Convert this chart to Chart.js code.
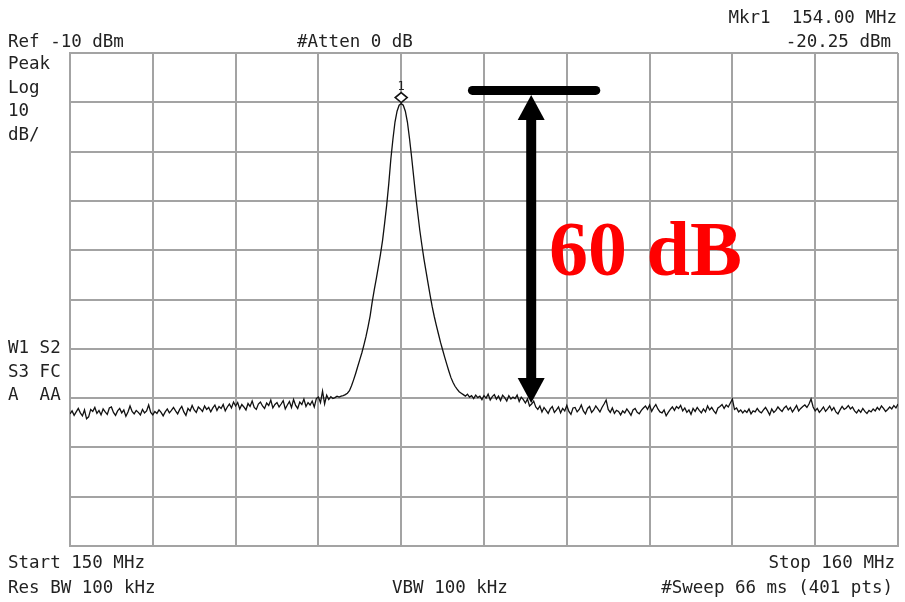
<!DOCTYPE html>
<html>
<head>
<meta charset="utf-8">
<script src="https://cdn.jsdelivr.net/npm/chart.js@4/dist/chart.umd.min.js"></script>
<style>
  html, body { margin: 0; padding: 0; background: #ffffff; }
  #wrap { width: 905px; height: 602px; position: relative; }
</style>
</head>
<body>
<div id="wrap"><canvas id="c" width="905" height="602"></canvas></div>
<script>
// ---- sweep settings ----
const startMHz = 150;
const stopMHz = 160;
const sweepPoints = 401;
const refLevelDbm = -10;
const dbPerDiv = 10;
const markerFreqMHz = 154.00;
const markerLevelDbm = -20.25;

// ---- trace values (dBm), left to right ----
const noiseSeg1 = [
  -83.2,-82.6,-83.5,-82.8,-82.1,-83.0,-83.6,-82.4,-84.2,-83.8,
  -82.3,-82.7,-81.9,-83.1,-82.5,-83.4,-82.2,-82.8,-83.3,-82.0,
  -81.8,-82.9,-83.5,-82.6,-82.1,-83.0,-82.4,-83.7,-82.8,-81.6,
  -82.7,-83.2,-82.5,-82.9,-83.4,-82.3,-83.0,-82.6,-81.4,-82.9
];
const noiseSeg2 = [
  -83.4,-82.7,-83.1,-82.4,-82.9,-83.6,-82.8,-82.2,-83.0,-82.5,
  -81.9,-82.6,-83.2,-82.3,-81.7,-82.8,-83.5,-82.1,-82.6,-81.5,
  -82.4,-82.9,-81.8,-82.2,-82.7,-81.6,-82.3,-81.9,-82.8,-82.0,
  -81.4,-82.5,-81.7,-82.1,-81.3,-82.6,-81.8,-81.2,-82.0,-80.8
];
const noiseSeg3 = [
  -81.6,-80.9,-82.2,-81.3,-81.8,-82.4,-81.1,-81.7,-80.6,-81.9,
  -82.3,-81.2,-80.8,-81.6,-82.1,-81.0,-81.5,-80.4,-82.0,-81.3,
  -80.9,-81.8,-81.2,-80.5,-82.2,-81.4,-80.7,-81.9,-80.3,-81.5,
  -82.1,-80.8,-81.3,-80.2,-81.7,-80.9,-81.4,-80.6,-81.8,-80.1
];
const noiseSeg4 = [
  -79.8,-80.9,-78.6,-81.2,-79.4,-80.3,-79.7,-80.1,-79.9,-79.6,-79.8,-79.6
];
const peakRise = [
  -79.5,-79.3,-79.0,-78.5,-77.5,-76.3,-75.0,-73.6,-72.2,-70.8,
  -69.2,-67.5,-65.5,-63.3,-60.5,-58.0,-55.7,-53.3,-50.8,-48.0,
  -44.5,-40.8,-36.5,-31.5,-27.5,-24.0,-21.8,-20.6
];
const peakTop = [ -20.25 ];
const peakFall = [
  -20.6,-21.8,-24.0,-27.3,-31.0,-35.0,-39.0,-42.5,-46.0,-49.0,
  -51.8,-54.3,-56.8,-59.2,-61.5,-63.5,-65.3,-67.0,-68.7,-70.2,
  -71.7,-73.1,-74.5,-75.8,-76.8,-77.6,-78.2,-78.7,-79.0
];
const noiseSeg5 = [
  -79.3,-79.6,-79.2,-79.8,-79.5,-80.1,-79.4,-79.9,-79.6,-80.3,
  -79.5,-80.0,-79.2,-80.4,-79.7,-79.3,-80.2,-79.6,-80.5,-79.4,
  -79.9,-80.6,-79.5,-80.2,-79.8
];
const noiseSeg6 = [
  -80.1,-79.4,-80.7,-79.8,-80.3,-81.0,-80.2,-81.6,-81.2,-80.6,-81.8
];
const noiseSeg7 = [
  -82.3,-81.6,-82.8,-81.9,-82.5,-83.1,-82.2,-81.7,-82.9,-82.4,
  -81.8,-83.0,-82.1,-82.6,-81.5,-82.7,-83.3,-82.0,-81.9,-82.8,
  -82.3,-81.4,-82.6,-83.2,-82.1,-81.7,-82.9,-82.4,-81.6,-82.2,
  -82.8,-81.9,-81.2,-80.4,-82.3,-82.9,-82.0,-83.1,-82.5,-82.7,
  -83.4,-82.6,-83.0,-82.2,-82.8,-83.5,-82.4,-82.1,-82.9,-83.2,
  -82.5,-82.0,-81.6,-82.3,-81.4,-82.7,-81.9,-81.3,-82.2,-82.8,
  -83.0,-82.4,-83.6,-82.9,-82.3,-81.8,-82.5,-81.7,-82.1,-81.5,
  -82.6,-82.0,-82.9,-82.4,-83.3,-82.1,-82.7,-81.9,-82.5,-83.0,
  -82.2,-82.8,-81.6,-82.4,-81.9,-82.6,-83.1,-82.0,-81.7,-81.3
];
const noiseSeg8 = [
  -82.1,-81.4,-81.8,-81.0,-80.2,-82.3,-82.0,-82.8,-82.4,-83.0,
  -82.5,-82.9,-82.2,-83.2,-82.6,-82.8,-82.1,-82.7,-83.0,-82.4,
  -81.9,-82.6,-83.4,-82.2,-82.9,-82.5,-81.8,-82.3,-82.7,-82.0,
  -81.6,-82.4,-81.9,-82.8,-82.2,-81.5,-82.6,-82.1,-81.7,-81.4,
  -81.9,-81.2,-80.2,-81.8,-82.6,-82.1,-82.9,-82.4,-81.8,-82.7,
  -82.2,-81.6,-82.5,-81.9,-82.8,-83.2,-82.4,-81.7,-82.3,-82.0,
  -81.5,-82.2,-81.8,-82.6,-83.0,-82.4,-82.9,-82.1,-82.7,-83.1,
  -82.5,-82.8,-82.2,-82.6,-81.9,-82.4,-81.6,-82.1,-82.7,-82.3,
  -81.8,-82.2,-81.5,-82.0,-81.2
];

// ---- annotation (data units) ----
const spanTopDbm = -18.0;
const spanBottomDbm = -81.0;
const spanArrowMHz = 155.57;
const spanBarFromMHz = 154.86;
const spanBarToMHz = 156.35;
const spanLabel = "60 dB";

// ---- screen texts ----
const topLeftText = "Ref -10 dBm";
const topMidText = "#Atten 0 dB";
const mkrLine1 = "Mkr1  154.00 MHz";
const mkrLine2 = "-20.25 dBm";
const leftTop = ["Peak", "Log", "10", "dB/"];
const leftMid = ["W1 S2", "S3 FC", "A  AA"];
const bottomLeft = ["Start 150 MHz", "Res BW 100 kHz"];
const bottomMid = "VBW 100 kHz";
const bottomRight = ["Stop 160 MHz", "#Sweep 66 ms (401 pts)"];

const levels = [].concat(noiseSeg1, noiseSeg2, noiseSeg3, noiseSeg4,
  peakRise, peakTop, peakFall, noiseSeg5, noiseSeg6, noiseSeg7, noiseSeg8);
const stepMHz = (stopMHz - startMHz) / (sweepPoints - 1);
const tracePoints = levels.map((v, i) => ({ x: startMHz + i * stepMHz, y: v }));

const gridColor = '#a3a3a3';
const mono = '"DejaVu Sans Mono", "Liberation Mono", monospace';

const overlay = {
  id: 'overlay',
  afterDraw(chart) {
    const ctx = chart.ctx;
    const xs = chart.scales.x, ys = chart.scales.y;
    ctx.save();
    // texts
    ctx.fillStyle = '#222';
    ctx.font = '17.5px ' + mono;
    ctx.textBaseline = 'alphabetic';
    ctx.textAlign = 'left';
    ctx.fillText(topLeftText, 8, 47);
    ctx.fillText(topMidText, 297, 47);
    leftTop.forEach((t, i) => ctx.fillText(t, 8, 69 + i * 23.5));
    leftMid.forEach((t, i) => ctx.fillText(t, 8, 353 + i * 23.5));
    ctx.fillText(bottomLeft[0], 8, 568);
    ctx.fillText(bottomLeft[1], 8, 593);
    ctx.fillText(bottomMid, 392, 593);
    ctx.textAlign = 'right';
    ctx.fillText(mkrLine1, 897, 23);
    ctx.fillText(mkrLine2, 891, 47);
    ctx.fillText(bottomRight[0], 895, 568);
    ctx.fillText(bottomRight[1], 893, 593);

    // marker diamond
    const mx = xs.getPixelForValue(markerFreqMHz);
    const my = ys.getPixelForValue(markerLevelDbm);
    const cy = my - 6;
    ctx.beginPath();
    ctx.moveTo(mx, cy - 5);
    ctx.lineTo(mx + 6, cy);
    ctx.lineTo(mx, cy + 5);
    ctx.lineTo(mx - 6, cy);
    ctx.closePath();
    ctx.fillStyle = '#fff';
    ctx.fill();
    ctx.lineWidth = 1.6;
    ctx.strokeStyle = '#111';
    ctx.stroke();
    ctx.fillStyle = '#222';
    ctx.font = '12px ' + mono;
    ctx.textAlign = 'center';
    ctx.fillText('1', mx, cy - 8);

    // span annotation
    const ax = xs.getPixelForValue(spanArrowMHz);
    const yTop = ys.getPixelForValue(spanTopDbm);
    const yBot = ys.getPixelForValue(spanBottomDbm);
    ctx.strokeStyle = '#000';
    ctx.fillStyle = '#000';
    ctx.lineCap = 'round';
    ctx.lineWidth = 9;
    ctx.beginPath();
    ctx.moveTo(xs.getPixelForValue(spanBarFromMHz), yTop - 2);
    ctx.lineTo(xs.getPixelForValue(spanBarToMHz), yTop - 2);
    ctx.stroke();
    const tipTop = yTop + 2.5, headLen = 25, headHalf = 13.5;
    ctx.lineCap = 'butt';
    ctx.lineWidth = 10;
    ctx.beginPath();
    ctx.moveTo(ax, tipTop + headLen - 2);
    ctx.lineTo(ax, yBot - headLen + 2);
    ctx.stroke();
    ctx.beginPath();
    ctx.moveTo(ax, tipTop);
    ctx.lineTo(ax + headHalf, tipTop + headLen);
    ctx.lineTo(ax - headHalf, tipTop + headLen);
    ctx.closePath();
    ctx.fill();
    ctx.beginPath();
    ctx.moveTo(ax, yBot);
    ctx.lineTo(ax + headHalf, yBot - headLen);
    ctx.lineTo(ax - headHalf, yBot - headLen);
    ctx.closePath();
    ctx.fill();

    ctx.fillStyle = '#ff0000';
    ctx.font = 'bold 78px "Liberation Serif", "Times New Roman", serif';
    ctx.textAlign = 'left';
    ctx.fillText(spanLabel, 549, 275);
    ctx.restore();
  }
};

new Chart(document.getElementById('c'), {
  type: 'line',
  data: {
    datasets: [{
      data: tracePoints,
      borderColor: '#111',
      borderWidth: 1.3,
      pointRadius: 0,
      tension: 0,
      fill: false
    }]
  },
  options: {
    responsive: false,
    animation: false,
    devicePixelRatio: 1,
    layout: { padding: { left: 70, right: 7, top: 53, bottom: 56 } },
    plugins: { legend: { display: false }, tooltip: { enabled: false } },
    scales: {
      x: {
        type: 'linear', min: startMHz, max: stopMHz,
        ticks: { display: false, stepSize: 1 },
        grid: { color: gridColor, lineWidth: 2, drawTicks: false },
        border: { display: true, color: gridColor, width: 2 }
      },
      y: {
        type: 'linear', min: refLevelDbm - 10 * dbPerDiv, max: refLevelDbm,
        ticks: { display: false, stepSize: dbPerDiv },
        grid: { color: gridColor, lineWidth: 2, drawTicks: false },
        border: { display: true, color: gridColor, width: 2 }
      }
    }
  },
  plugins: [overlay]
});
</script>
</body>
</html>
